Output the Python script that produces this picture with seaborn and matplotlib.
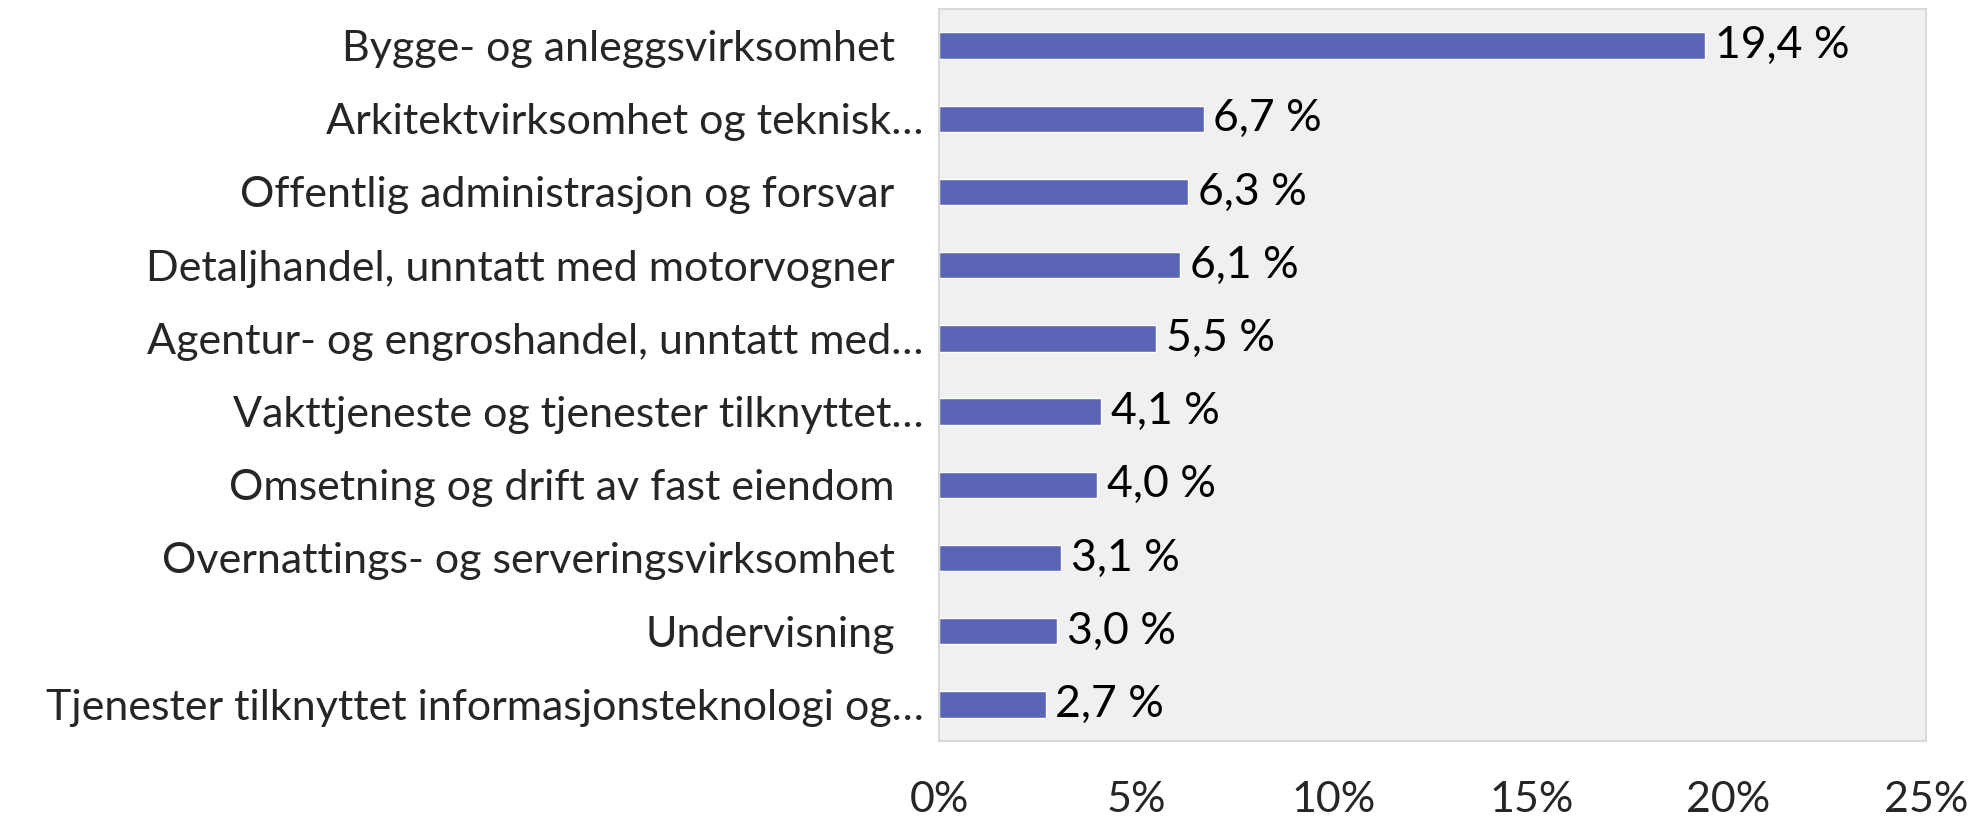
import numpy as np
import pandas as pd
import matplotlib
matplotlib.use("Agg")
import matplotlib.pyplot as plt
import matplotlib.transforms as mtransforms
import seaborn as sns

categories = [
    "Bygge- og anleggsvirksomhet",
    "Arkitektvirksomhet og teknisk…",
    "Offentlig administrasjon og forsvar",
    "Detaljhandel, unntatt med motorvogner",
    "Agentur- og engroshandel, unntatt med…",
    "Vakttjeneste og tjenester tilknyttet…",
    "Omsetning og drift av fast eiendom",
    "Overnattings- og serveringsvirksomhet",
    "Undervisning",
    "Tjenester tilknyttet informasjonsteknologi og…",
]
values = [19.4, 6.7, 6.3, 6.1, 5.5, 4.1, 4.0, 3.1, 3.0, 2.7]
xticks = [0, 5, 10, 15, 20, 25]

df = pd.DataFrame({"kategori": categories, "andel": values})

sns.set_style("white")
plt.rcParams["font.family"] = ["Lato", "DejaVu Sans"]

fig = plt.figure(figsize=(19.82, 8.22), dpi=100)
ax = fig.add_axes([939 / 1982, 1 - 741 / 822, (1926 - 939) / 1982, (741 - 9) / 822])
ax.set_facecolor("#f0f0f0")

sns.barplot(data=df, x="andel", y="kategori", color="#5b65b6", width=0.36,
            saturation=1, ax=ax, orient="h")

fs = 31
for i, v in enumerate(values):
    ax.text(v + 0.25, i, f"{v:.1f} %".replace(".", ","), va="center", ha="left",
            fontsize=32, color="black")

ax.set_xlim(0, 25)
ax.set_xticks(xticks)
ax.set_xticklabels([f"{t}%" for t in xticks])
ax.set_ylim(len(categories) - 0.5, -0.5)
ax.set_xlabel("")
ax.set_ylabel("")
ax.tick_params(axis="x", direction="in", length=11, width=1, color="#d9d9d9",
               pad=29, labelsize=fs)
ax.set_yticks(np.arange(len(categories)) + 0.5, minor=True)
ax.tick_params(axis="y", which="major", length=0, pad=32, labelsize=fs)
ax.tick_params(axis="y", which="minor", direction="in", length=10, width=1,
               color="#d9d9d9")

# truncated labels sit a little closer to the axis, like in the original
shift = mtransforms.ScaledTranslation(21 / 72, 0, fig.dpi_scale_trans)
for lbl in ax.get_yticklabels():
    if lbl.get_text().endswith("…"):
        lbl.set_transform(lbl.get_transform() + shift)

for s in ax.spines.values():
    s.set_visible(True)
    s.set_color("#d9d9d9")
    s.set_linewidth(1.5)

fig.savefig("out.png", dpi=100, facecolor="white")
